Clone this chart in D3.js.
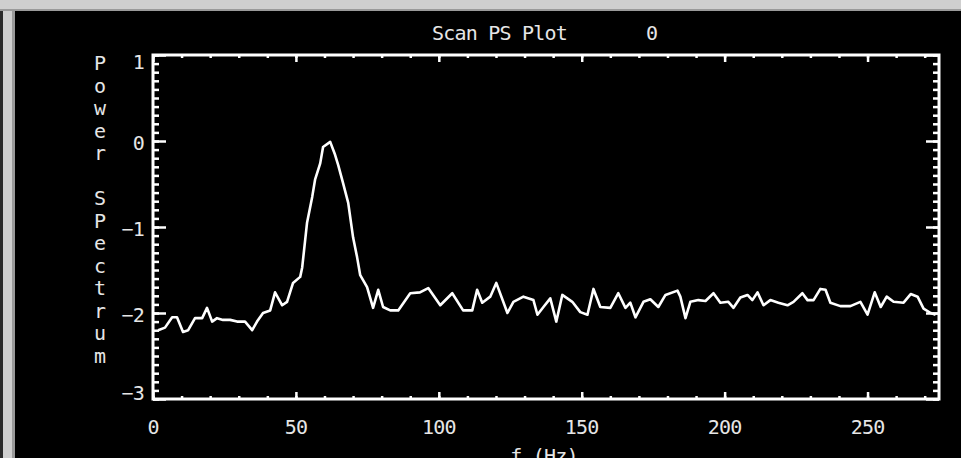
<!DOCTYPE html>
<html><head><meta charset="utf-8">
<script src="https://cdn.jsdelivr.net/npm/d3@7"></script>
<style>html,body{margin:0;padding:0;background:#000;overflow:hidden}</style>
</head><body>
<script>
// ---- data ----
const title = "Scan PS Plot";
const titleIndex = "0";
const xLabel = "f (Hz)";
const yLabelText = "Power Spectrum".replace("Sp", "SP");
const xTicks = [0, 50, 100, 150, 200, 250];
const yTicks = [1, 0, -1, -2, -3];
const freq = [1.8,4.2,6.7,8.4,10.5,12.3,14.7,17.2,18.9,20.7,22.4,24.5,27.0,29.4,32.2,34.7,36.4,38.5,41.0,42.7,45.2,46.9,49.0,51.5,52.2,53.9,55.7,56.7,58.5,59.5,62.0,63.7,64.8,66.5,68.3,70.0,71.4,72.5,74.9,77.0,78.8,80.5,83.0,85.8,90.0,93.4,96.3,100.5,104.7,108.5,111.7,113.4,115.2,118.0,120.1,124.0,126.1,129.6,133.1,134.5,136.6,139.0,141.1,143.2,146.7,149.5,152.0,154.1,156.5,160.0,162.8,165.3,167.0,168.8,171.6,174.0,176.8,179.3,183.5,184.5,186.3,188.0,190.8,193.3,196.1,198.5,201.3,203.1,205.5,208.0,209.7,211.5,213.6,216.0,218.8,222.0,224.1,227.2,229.0,231.1,233.5,235.3,237.0,240.5,244.0,247.5,250.0,252.5,254.6,256.7,259.1,262.6,265.1,267.5,269.6,272.1,273.8];
const power = [-2.20,-2.17,-2.05,-2.05,-2.22,-2.20,-2.06,-2.06,-1.94,-2.10,-2.06,-2.08,-2.08,-2.10,-2.10,-2.20,-2.10,-2.00,-1.97,-1.76,-1.91,-1.87,-1.65,-1.58,-1.47,-0.95,-0.65,-0.45,-0.26,-0.07,-0.01,-0.16,-0.28,-0.49,-0.72,-1.12,-1.35,-1.56,-1.70,-1.94,-1.73,-1.93,-1.97,-1.97,-1.77,-1.76,-1.71,-1.91,-1.77,-1.97,-1.97,-1.73,-1.88,-1.81,-1.65,-2.00,-1.87,-1.81,-1.85,-2.02,-1.93,-1.83,-2.10,-1.79,-1.87,-1.99,-2.02,-1.72,-1.93,-1.94,-1.77,-1.94,-1.88,-2.05,-1.87,-1.84,-1.93,-1.79,-1.74,-1.81,-2.06,-1.87,-1.85,-1.86,-1.77,-1.88,-1.87,-1.94,-1.82,-1.79,-1.85,-1.76,-1.91,-1.85,-1.88,-1.91,-1.87,-1.77,-1.85,-1.85,-1.72,-1.73,-1.88,-1.92,-1.92,-1.87,-2.02,-1.76,-1.93,-1.81,-1.87,-1.88,-1.78,-1.81,-1.95,-2.00,-2.02];

// ---- layout ----
const W = 961, H = 458;
const svg = d3.select("body").append("svg").attr("width", W).attr("height", H);

// window frame
svg.append("rect").attr("x",0).attr("y",0).attr("width",W).attr("height",H).attr("fill","#000");
svg.append("rect").attr("x",0).attr("y",0).attr("width",W).attr("height",11).attr("fill","#cfcfcf");
svg.append("rect").attr("x",0).attr("y",9).attr("width",W).attr("height",2).attr("fill","#9a9a9a");
svg.append("rect").attr("x",0).attr("y",11).attr("width",3).attr("height",H-11).attr("fill","#2a2a2a");
svg.append("rect").attr("x",3).attr("y",11).attr("width",10).attr("height",H-11).attr("fill","#cfcfcf");
svg.append("rect").attr("x",12).attr("y",11).attr("width",3).attr("height",H-11).attr("fill","#9a9a9a");

const L = 153, R = 939, T = 55, B = 399;
const x = d3.scaleLinear().domain([0, 275]).range([L, R]);
const y = d3.scaleLinear().domain([-3, 1]).range([B, T]);

const font = "'DejaVu Sans Mono', monospace";
const txt = "#e6e6e6";

function styleAxis(g){
  g.select(".domain").remove();
  g.selectAll("line").attr("stroke","#fff").attr("stroke-width",2.5);
  g.selectAll("text").remove();
}
const xMinor = d3.range(0, 276, 10);
const yMinor = d3.range(-30, 11, 1).map(d => d/10);

// bottom / top axes
svg.append("g").attr("transform",`translate(0,${B})`).call(d3.axisBottom(x).tickValues(xMinor).tickSize(-3)).call(styleAxis);
svg.append("g").attr("transform",`translate(0,${B})`).call(d3.axisBottom(x).tickValues(xTicks).tickSize(-7)).call(styleAxis);
svg.append("g").attr("transform",`translate(0,${T})`).call(d3.axisTop(x).tickValues(xMinor).tickSize(-3)).call(styleAxis);
svg.append("g").attr("transform",`translate(0,${T})`).call(d3.axisTop(x).tickValues(xTicks).tickSize(-7)).call(styleAxis);
// left / right axes
svg.append("g").attr("transform",`translate(${L},0)`).call(d3.axisLeft(y).tickValues(yMinor).tickSize(-6)).call(styleAxis);
svg.append("g").attr("transform",`translate(${L},0)`).call(d3.axisLeft(y).tickValues(yTicks).tickSize(-13)).call(styleAxis);
svg.append("g").attr("transform",`translate(${R},0)`).call(d3.axisRight(y).tickValues(yMinor).tickSize(-6)).call(styleAxis);
svg.append("g").attr("transform",`translate(${R},0)`).call(d3.axisRight(y).tickValues(yTicks).tickSize(-13)).call(styleAxis);

// frame box
svg.append("rect").attr("x",L).attr("y",T).attr("width",R-L).attr("height",B-T)
  .attr("fill","none").attr("stroke","#fff").attr("stroke-width",3);

// data line
const line = d3.line().x((d,i)=>x(freq[i])).y(d=>y(d));
svg.append("path").datum(power).attr("d",line).attr("fill","none")
  .attr("stroke","#fff").attr("stroke-width",2.6).attr("stroke-linejoin","round");

// tick labels
svg.selectAll(".xl").data(xTicks).enter().append("text")
  .attr("x",d=>x(d)).attr("y",434).attr("text-anchor","middle")
  .attr("font-family",font).attr("font-size",20).attr("letter-spacing",-0.8).attr("fill",txt).text(d=>d);
svg.selectAll(".yl").data(yTicks).enter().append("text")
  .attr("x",144).attr("y",d=> y(d) + (d===1?14:(d===-3?1:9)))
  .attr("text-anchor","end")
  .attr("font-family",font).attr("font-size",20).attr("letter-spacing",-0.8).attr("fill",txt)
  .text(d=> d<0 ? "\u2212"+Math.abs(d) : d);

// title
svg.append("text").attr("x",432).attr("y",40).attr("font-family",font).attr("font-size",20)
  .attr("letter-spacing",-0.8).attr("fill",txt).text(title);
svg.append("text").attr("x",652).attr("y",40).attr("text-anchor","middle").attr("font-family",font).attr("font-size",20)
  .attr("fill",txt).text(titleIndex);

// x label
svg.append("text").attr("x",544).attr("y",463).attr("text-anchor","middle").attr("font-family",font).attr("font-size",20)
  .attr("letter-spacing",-0.8).attr("fill",txt).text(xLabel);

// y label (stacked letters)
const yl = svg.append("text").attr("font-family",font).attr("font-size",20).attr("fill",txt).attr("text-anchor","middle");
yLabelText.split("").forEach((c,i)=>{
  yl.append("tspan").attr("x",100).attr("y",70 + i*22.5).text(c);
});
</script>
</body></html>
